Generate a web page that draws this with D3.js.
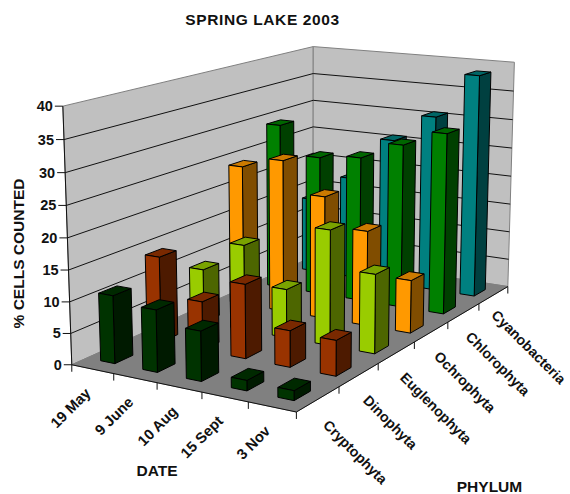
<!DOCTYPE html>
<html>
<head>
<meta charset="utf-8">
<script src="https://cdn.jsdelivr.net/npm/d3@7/dist/d3.min.js"></script>
<style>
html,body{margin:0;padding:0;background:#fff}
svg{display:block}
text{font-family:"Liberation Sans",Arial,sans-serif;font-weight:bold;fill:#111}
</style>
</head>
<body>
<svg id="chart" width="570" height="494"></svg>
<script>
const dates = ["19 May", "9 June", "10 Aug", "15 Sept", "3 Nov"];
const phyla = ["Cryptophyta", "Dinophyta", "Euglenophyta", "Ochrophyta", "Chlorophyta", "Cyanobacteria"];
const cryptophyta = [10.8, 9.8, 7.8, 1.6, 1.5];
const dinophyta = [14, 7.9, 11.9, 5.8, 5.6];
const euglenophyta = [9, 14.2, 8, 18.8, 12.8];
const ochrophyta = [24, 25.9, 20.7, 15.9, 8.8];
const chlorophyta = [29.1, 24.2, 25, 28, 30.7];
const cyanobacteria = [13.4, 18.2, 25.9, 30.8, 38.6];
const seriesValues = [cryptophyta, dinophyta, euglenophyta, ochrophyta, chlorophyta, cyanobacteria];
const seriesColors = ["#003300", "#993300", "#99cc00", "#ff9900", "#008000", "#008080"];
const valueTicks = [0, 5, 10, 15, 20, 25, 30, 35, 40];

// Camera calibration: box corners (date, phylum, height) and where they land on screen.
const boxCorners = [
  [0, 0, 0, 72, 364], [1, 0, 0, 296, 413], [1, 1, 0, 508, 285], [0, 1, 0, 313, 258],
  [0, 0, 1, 63, 106], [0, 1, 1, 313, 46], [1, 1, 1, 514.5, 63]
];

// Least-squares fit of an 11-parameter perspective camera.
function fitCamera(corners) {
  const A = [], b = [];
  corners.forEach(([x, y, z, X, Y]) => {
    A.push([x, y, z, 1, 0, 0, 0, 0, -X * x, -X * y, -X * z]); b.push(X);
    A.push([0, 0, 0, 0, x, y, z, 1, -Y * x, -Y * y, -Y * z]); b.push(Y);
  });
  const n = 11;
  const M = d3.range(n).map(r => d3.range(n + 1).map(c =>
    c < n ? d3.sum(A, row => row[r] * row[c]) : d3.sum(A, (row, k) => row[r] * b[k])));
  for (let c = 0; c < n; c++) {
    let piv = c;
    for (let r = c + 1; r < n; r++) if (Math.abs(M[r][c]) > Math.abs(M[piv][c])) piv = r;
    [M[c], M[piv]] = [M[piv], M[c]];
    for (let r = 0; r < n; r++) {
      if (r === c) continue;
      const f = M[r][c] / M[c][c];
      for (let k = c; k <= n; k++) M[r][k] -= f * M[c][k];
    }
  }
  return d3.range(n).map(i => M[i][n] / M[i][i]);
}
const cam = fitCamera(boxCorners);
function project(x, y, z) {
  const w = cam[8] * x + cam[9] * y + cam[10] * z + 1;
  return [(cam[0] * x + cam[1] * y + cam[2] * z + cam[3]) / w,
          (cam[4] * x + cam[5] * y + cam[6] * z + cam[7]) / w];
}

// Scales from data to the unit box.
const dateScale = d3.scaleBand().domain(dates).range([0, 1]).paddingInner(0.66).paddingOuter(0.33);
const phylumScale = d3.scaleBand().domain(phyla).range([0, 1]).paddingInner(0.62).paddingOuter(0.31);
const dateSlots = d3.scaleBand().domain(dates).range([0, 1]);
const phylumSlots = d3.scaleBand().domain(phyla).range([0, 1]);
const heightScale = d3.scaleLinear().domain([0, 40]).range([0, 1]);

const svg = d3.select("#chart");
const line = d3.line();
const poly = pts => line(pts) + "Z";
const P = (x, y, z) => project(x, y, z);

// Walls and floor
const walls = svg.append("g");
walls.append("path").attr("d", poly([P(0,0,0), P(0,1,0), P(0,1,1), P(0,0,1)]))
  .attr("fill", "#c0c0c0").attr("stroke", "#808080").attr("stroke-width", 1);
walls.append("path").attr("d", poly([P(0,1,0), P(1,1,0), P(1,1,1), P(0,1,1)]))
  .attr("fill", "#c0c0c0").attr("stroke", "#808080").attr("stroke-width", 1);
walls.append("path").attr("d", poly([P(0,0,0), P(1,0,0), P(1,1,0), P(0,1,0)]))
  .attr("fill", "#808080").attr("stroke", "#808080").attr("stroke-width", 1);

// Gridlines run along both walls
walls.selectAll("path.grid").data(valueTicks.slice(1, -1)).join("path")
  .attr("class", "grid").attr("fill", "none").attr("stroke", "#111").attr("stroke-width", 1)
  .attr("d", v => { const z = heightScale(v); return line([P(0,0,z), P(0,1,z), P(1,1,z)]); });

// Bars, farthest first
const bars = [];
d3.range(phyla.length - 1, -1, -1).forEach(j => {
  dates.forEach((d, i) => bars.push({ date: d, phylum: phyla[j], value: seriesValues[j][i], color: seriesColors[j] }));
});
const barG = svg.append("g").attr("stroke", "#000").attr("stroke-width", 1).attr("stroke-linejoin", "round");
bars.forEach(b => {
  const x0 = dateScale(b.date), x1 = x0 + dateScale.bandwidth();
  const y0 = phylumScale(b.phylum), y1 = y0 + phylumScale.bandwidth();
  const z = heightScale(b.value);
  const c = d3.rgb(b.color);
  const shade = k => d3.rgb(c.r * k, c.g * k, c.b * k).formatHex();
  barG.append("path").attr("fill", shade(0.5)).attr("d", poly([P(x1,y0,0), P(x1,y1,0), P(x1,y1,z), P(x1,y0,z)]));
  barG.append("path").attr("fill", shade(0.8)).attr("d", poly([P(x0,y0,z), P(x1,y0,z), P(x1,y1,z), P(x0,y1,z)]));
  barG.append("path").attr("fill", b.color).attr("d", poly([P(x0,y0,0), P(x1,y0,0), P(x1,y0,z), P(x0,y0,z)]));
});

// Axes
const axes = svg.append("g").attr("stroke", "#111").attr("stroke-width", 1).attr("fill", "none");
axes.append("path").attr("d", line([P(0,0,0), P(0,0,1)]));
axes.append("path").attr("d", line([P(0,0,0), P(1,0,0), P(1,1,0)]));
const labels = svg.append("g");
valueTicks.forEach(v => {
  const [X, Y] = P(0, 0, heightScale(v));
  axes.append("path").attr("d", line([[X - 8, Y], [X, Y]]));
  labels.append("text").attr("x", X - 10).attr("y", Y + 5).attr("text-anchor", "end")
    .attr("font-size", 14.5).text(v);
});
dates.forEach(d => {
  const u0 = dateSlots(d);
  const [X, Y] = P(u0, 0, 0);
  axes.append("path").attr("d", line([[X, Y], [X, Y + 7]]));
  const [cx, cy] = P(u0 + dateSlots.bandwidth() / 2, 0, 0);
  labels.append("text").attr("transform", `translate(${cx - 1},${cy + 25}) rotate(-45)`)
    .attr("text-anchor", "end").attr("font-size", 14.8).text(d);
});
{ const [X, Y] = P(1, 0, 0); axes.append("path").attr("d", line([[X, Y], [X, Y + 7]])); }
phyla.forEach((p, j) => {
  const v1 = phylumSlots(p) + phylumSlots.bandwidth();
  const [X, Y] = P(1, v1, 0);
  axes.append("path").attr("d", line([[X, Y], [X, Y + 7]]));
  const [cx, cy] = P(1, phylumSlots(p) + phylumSlots.bandwidth() / 2, 0);
  const lx = cx + 4 - 0.7 * j, ly = cy + 27 - 0.5 * j;
  const label = labels.append("text").attr("transform", `translate(${lx},${ly}) rotate(45)`)
    .attr("font-size", 14.2).text(p);
  // Pull a label back along its baseline if its box would leave the frame.
  const over = label.node().getBoundingClientRect().right - 569;
  if (over > 0) label.attr("transform", `translate(${lx - over},${ly - over}) rotate(45)`);
});

// Titles
labels.append("text").attr("x", 262.5).attr("y", 25).attr("text-anchor", "middle").attr("font-size", 15.5).attr("letter-spacing", 0.6).text("SPRING LAKE 2003");
labels.append("text").attr("transform", "translate(24,253.5) rotate(-90)").attr("text-anchor", "middle").attr("font-size", 15.5).text("% CELLS COUNTED");
labels.append("text").attr("x", 157).attr("y", 476).attr("text-anchor", "middle").attr("font-size", 15.5).text("DATE");
labels.append("text").attr("x", 489.5).attr("y", 492).attr("text-anchor", "middle").attr("font-size", 15.5).text("PHYLUM");
</script>
</body>
</html>
